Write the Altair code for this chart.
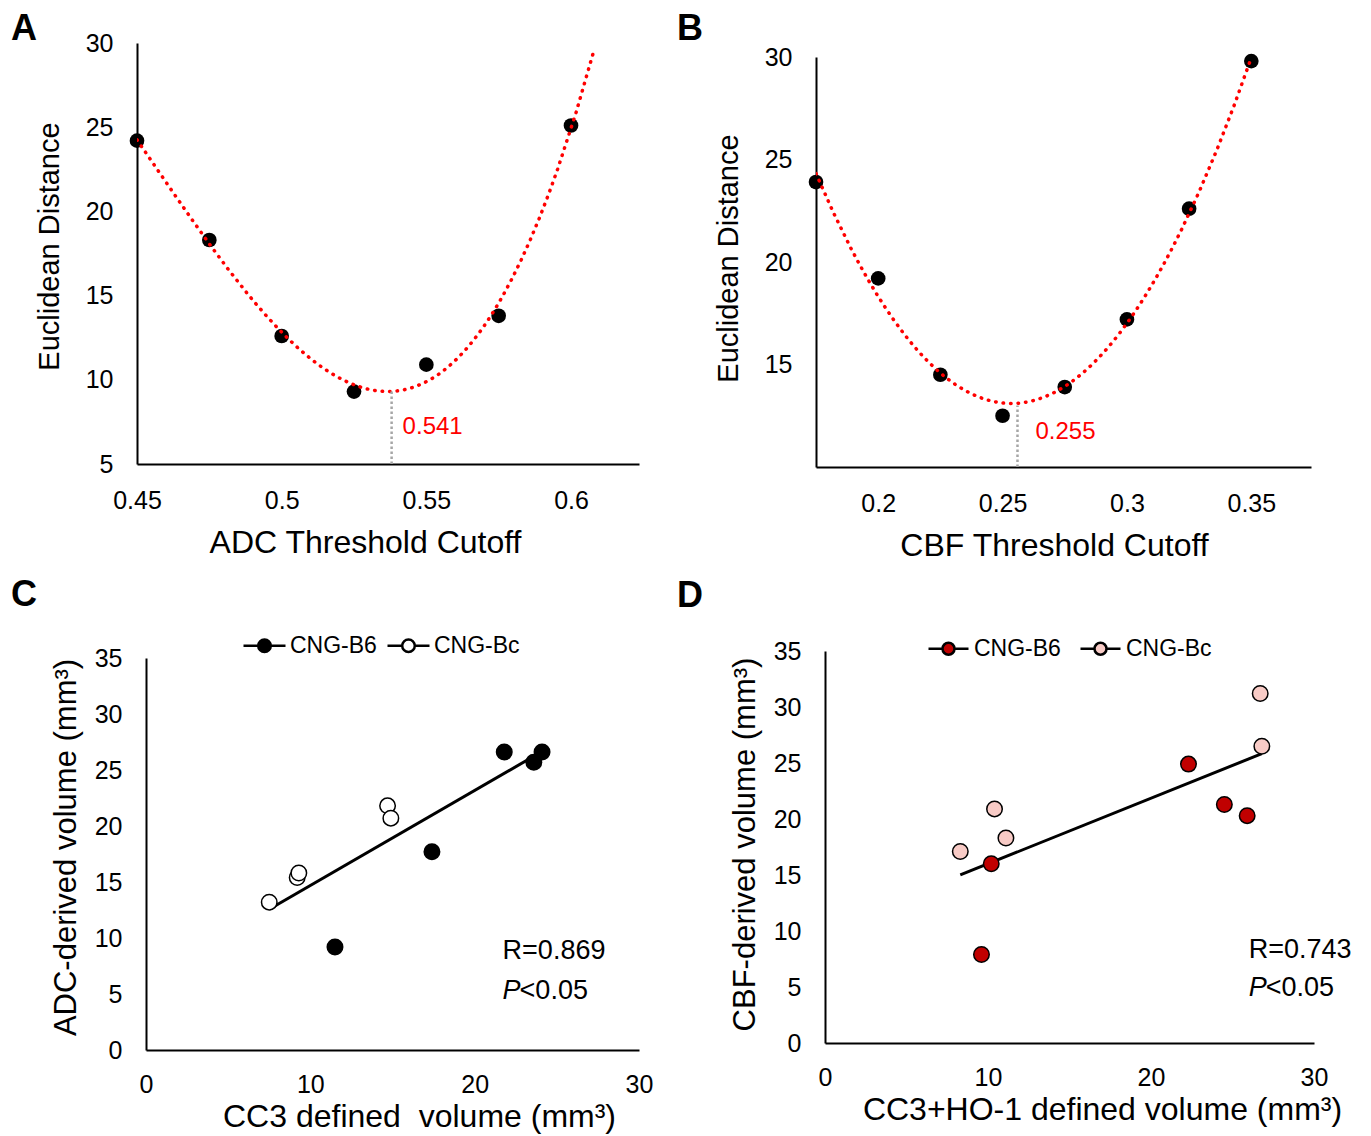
import altair as alt
import pandas as pd

FONT = "Liberation Sans"

# ---------------- data ----------------
# Panel A
adc_cutoff = [0.45, 0.475, 0.5, 0.525, 0.55, 0.575, 0.6]
adc_distance = [24.2, 18.3, 12.6, 9.3, 10.9, 13.8, 25.1]
adc_opt = [0.538]
adc_opt_low = [5]
adc_opt_high = [9.33]
adc_opt_label_y = [7.2]
adc_opt_label = ["0.541"]

# Panel B
cbf_cutoff = [0.175, 0.2, 0.225, 0.25, 0.275, 0.3, 0.325, 0.35]
cbf_distance = [23.9, 19.2, 14.5, 12.5, 13.9, 17.2, 22.6, 29.8]
cbf_opt = [0.256]
cbf_opt_low = [10]
cbf_opt_high = [13.0]
cbf_opt_label_y = [11.7]
cbf_opt_label = ["0.255"]

strains = ["CNG-B6", "CNG-Bc"]

# Panel C
c_b6_x = [11.5, 17.4, 21.8, 23.6, 24.1]
c_b6_y = [9.2, 17.7, 26.6, 25.7, 26.6]
c_bc_x = [7.5, 9.2, 9.3, 14.7, 14.9]
c_bc_y = [13.2, 15.4, 15.8, 21.8, 20.7]
c_stat_x = [21.7]
c_r_y = [8.84]
c_p_y = [5.27]
c_r_text = ["R=0.869"]

# Panel D
d_b6_x = [9.6, 10.2, 22.3, 24.5, 25.9]
d_b6_y = [7.9, 16.0, 24.9, 21.3, 20.3]
d_bc_x = [8.3, 10.4, 11.1, 26.7, 26.8]
d_bc_y = [17.1, 20.9, 18.3, 31.2, 26.5]
d_stat_x = [26.0]
d_r_y = [8.3]
d_p_y = [4.9]
d_r_text = ["R=0.743"]

p_text = ["P"]
p_rest = ["<0.05"]

# ---------------- helpers ----------------
def axis(title, values, fmt, lsize, tsize, lpad, tpad, tx=None, ty=None, offset=None):
    kw = dict(title=title, values=values, ticks=False, grid=False,
              domainColor="black", domainWidth=2, labelFont=FONT,
              labelFontSize=lsize, labelColor="black", labelPadding=lpad,
              labelFlush=False, labelOverlap=False, titleFont=FONT,
              titleFontSize=tsize, titleFontWeight="normal", titleColor="black",
              titlePadding=tpad)
    if fmt:
        kw["format"] = fmt
    if tx is not None:
        kw["titleX"] = tx
    if ty is not None:
        kw["titleY"] = ty
    if offset is not None:
        kw["offset"] = offset
    return alt.Axis(**kw)


def letter(t, dx, dy):
    return alt.TitleParams(text=t, anchor="start", frame="group", fontSize=36,
                           fontWeight="bold", font=FONT, color="black",
                           dx=dx, dy=dy, offset=0)


RED = "#FF0000"
GREY = "#A6A6A6"

# ---------------- Panel A ----------------
dfA = pd.DataFrame({"x": adc_cutoff, "y": adc_distance})
optA = pd.DataFrame({"x": adc_opt, "y": adc_opt_low, "y2": adc_opt_high,
                     "ly": adc_opt_label_y, "t": adc_opt_label})
sxA = alt.Scale(domain=[0.45, 0.6235], nice=False, zero=False)
syA = alt.Scale(domain=[5, 30], nice=False, zero=False)
axA = axis("ADC Threshold Cutoff", [0.45, 0.5, 0.55, 0.6], "~g", 25, 32, 24, 14, tx=228)
ayA = axis("Euclidean Distance", [5, 10, 15, 20, 25, 30], None, 25, 29, 24, 21, ty=203)


def XA(f):
    return alt.X(f, type="quantitative", scale=sxA, axis=axA)


def YA(f):
    return alt.Y(f, type="quantitative", scale=syA, axis=ayA)


A = alt.layer(
    alt.Chart(dfA).mark_circle(size=215, color="black", opacity=1).encode(x=XA("x"), y=YA("y")),
    alt.Chart(dfA).transform_regression("x", "y", method="poly", order=3, extent=[0.45, 0.608])
    .mark_line(color=RED, strokeWidth=3.5, strokeDash=[0.5, 7], strokeCap="round", clip=True)
    .encode(x=XA("x"), y=YA("y")),
    alt.Chart(optA).mark_rule(color=GREY, strokeWidth=2.5, strokeDash=[2.5, 2.5])
    .encode(x=XA("x"), y=YA("y"), y2="y2:Q"),
    alt.Chart(optA).mark_text(color=RED, fontSize=24, font=FONT, align="left", baseline="middle", dx=11)
    .encode(x=XA("x"), y=YA("ly"), text="t:N"),
).properties(width=502, height=421, title=letter("A", -126, 17))

# ---------------- Panel B ----------------
dfB = pd.DataFrame({"x": cbf_cutoff, "y": cbf_distance})
optB = pd.DataFrame({"x": cbf_opt, "y": cbf_opt_low, "y2": cbf_opt_high,
                     "ly": cbf_opt_label_y, "t": cbf_opt_label})
sxB = alt.Scale(domain=[0.175, 0.374], range=[0, 495], nice=False, zero=False)
syB = alt.Scale(domain=[10, 30], range=[424, 14], nice=False, zero=False)
axB = axis("CBF Threshold Cutoff", [0.2, 0.25, 0.3, 0.35], "~g", 25, 32, 24, 14, tx=238)
ayB = axis("Euclidean Distance", [15, 20, 25, 30], None, 25, 29, 24, 21, ty=215)


def XB(f):
    return alt.X(f, type="quantitative", scale=sxB, axis=axB)


def YB(f):
    return alt.Y(f, type="quantitative", scale=syB, axis=ayB)


B = alt.layer(
    alt.Chart(dfB).mark_circle(size=215, color="black", opacity=1).encode(x=XB("x"), y=YB("y")),
    alt.Chart(dfB).transform_regression("x", "y", method="poly", order=2, extent=[0.175, 0.35])
    .mark_line(color=RED, strokeWidth=3.5, strokeDash=[0.5, 7], strokeCap="round", clip=True)
    .encode(x=XB("x"), y=YB("y")),
    alt.Chart(optB).mark_rule(color=GREY, strokeWidth=2.5, strokeDash=[2.5, 2.5])
    .encode(x=XB("x"), y=YB("y"), y2="y2:Q"),
    alt.Chart(optB).mark_text(color=RED, fontSize=24, font=FONT, align="left", baseline="middle", dx=18)
    .encode(x=XB("x"), y=YB("ly"), text="t:N"),
).properties(width=498, height=424, title=letter("B", -139, 5))

# ---------------- scatter panels ----------------
SYM = "M-1,0L-0.3,0M0.3,0L1,0M0.3,0A0.3,0.3,0,1,1,-0.3,0A0.3,0.3,0,1,1,0.3,0Z"


def scatter(b6x, b6y, bcx, bcy, colors, xs, ys, xtitle, ytitle, txx, tyy,
            lx, ly, lsize, colpad, loff, sx, rtext, ry, py, w, h, ltr, ldx, ldy):
    df = pd.DataFrame({
        "x": b6x + bcx,
        "y": b6y + bcy,
        "strain": [strains[0]] * len(b6x) + [strains[1]] * len(bcx),
    })
    ax_x = axis(xtitle, [0, 10, 20, 30], None, 25, 32, 22, 4, tx=txx)
    ax_y = axis(ytitle, [0, 5, 10, 15, 20, 25, 30, 35], None, 25, 31, 24, 12, ty=tyy, offset=-9)

    def X(f):
        return alt.X(f, type="quantitative", scale=xs, axis=ax_x)

    def Y(f):
        return alt.Y(f, type="quantitative", scale=ys, axis=ax_y)

    leg = alt.Legend(orient="none", legendX=lx, legendY=ly, direction="horizontal",
                     title=None, symbolType=SYM, symbolSize=lsize, symbolStrokeWidth=2.5,
                     symbolStrokeColor="black", labelFont=FONT, labelFontSize=23,
                     labelColor="black", columnPadding=colpad, labelOffset=loff,
                     padding=0, symbolOpacity=1)
    trend = alt.Chart(df).transform_regression("x", "y").mark_line(
        color="black", strokeWidth=3).encode(x=X("x"), y=Y("y"))
    pts = alt.Chart(df).mark_point(shape="circle", filled=True, size=240, stroke="black",
                                   strokeWidth=1.5, opacity=1).encode(
        x=X("x"), y=Y("y"),
        fill=alt.Fill("strain:N", scale=alt.Scale(domain=strains, range=colors), legend=leg))
    st = pd.DataFrame({"x": sx, "ry": ry, "py": py, "r": rtext, "p": p_text, "q": p_rest})
    rt = alt.Chart(st).mark_text(fontSize=27, font=FONT, align="left", baseline="middle",
                                 color="black").encode(x=X("x"), y=Y("ry"), text="r:N")
    pt = alt.Chart(st).mark_text(fontSize=27, font=FONT, fontStyle="italic", align="left",
                                 baseline="middle", color="black").encode(x=X("x"), y=Y("py"), text="p:N")
    qt = alt.Chart(st).mark_text(fontSize=27, font=FONT, align="left", baseline="middle",
                                 color="black", dx=17).encode(x=X("x"), y=Y("py"), text="q:N")
    return alt.layer(trend, pts, rt, pt, qt).properties(width=w, height=h, title=letter(ltr, ldx, ldy))


C = scatter(c_b6_x, c_b6_y, c_bc_x, c_bc_y, ["black", "white"],
            alt.Scale(domain=[0, 30], range=[9, 502], nice=False, zero=False),
            alt.Scale(domain=[0, 35], range=[399, 7], nice=False, zero=False),
            "CC3 defined\u00a0 volume (mm³)", "ADC-derived volume (mm³)", 282, 196,
            105, -28, 1764, 5, 3, c_stat_x, c_r_text, c_r_y, c_p_y, 502, 399, "C", -126, -9)

D = scatter(d_b6_x, d_b6_y, d_bc_x, d_bc_y, ["#C00000", "#F8CBC6"],
            alt.Scale(domain=[0, 30], range=[9, 498], nice=False, zero=False),
            alt.Scale(domain=[0, 35], nice=False, zero=False),
            "CC3+HO-1 defined volume (mm³)", "CBF-derived volume (mm³)", 286, 193,
            111, -24, 1600, 14, 4, d_stat_x, d_r_text, d_r_y, d_p_y, 498, 392, "D", -139, -12)

chart = alt.concat(A, B, C, D, columns=2, spacing={"row": 184, "column": 177},
                   bounds="flush").resolve_scale(fill="independent").configure_view(
    stroke=None).properties(padding={"left": 3, "top": 3, "right": 5, "bottom": 5},
                            background="white")

chart.save("out.html", embed_options={"renderer": "svg", "actions": False})
